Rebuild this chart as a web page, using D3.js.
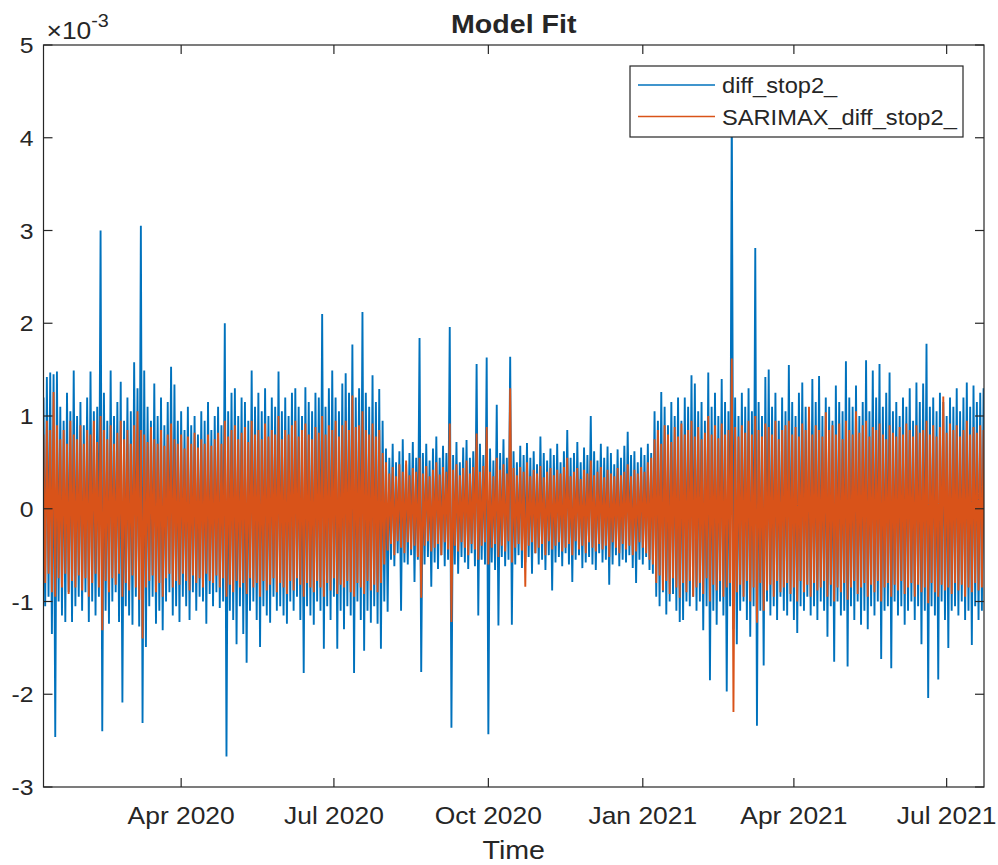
<!DOCTYPE html>
<html>
<head>
<meta charset="utf-8">
<script src="https://cdn.jsdelivr.net/npm/d3@7"></script>
<style>
  body { margin: 0; background: #fff; }
  svg { display: block; font-family: "Liberation Sans", Arial, Helvetica, sans-serif; }
</style>
</head>
<body>
<svg id="chart" width="998" height="865"></svg>
<script>
// values are in units of 1e-3; one (peak, trough) pair every 2 days from 2020-01-10
const startDate = Date.UTC(2020, 0, 10);
const stepDays = 2;

const actualHi = [
  1.20, 1.42, 1.47, 1.45, 1.48, 1.10, 0.95, 1.25, 1.05, 1.49,
  1.00, 1.15, 0.90, 1.20, 1.48, 1.05, 1.10, 3.00, 1.25, 0.95,
  1.49, 1.00, 1.15, 1.37, 0.95, 1.20, 1.05, 1.58, 1.30, 3.05,
  1.49, 1.10, 0.95, 1.35, 1.00, 1.20, 0.90, 1.15, 1.53, 1.34,
  0.95, 1.05, 0.85, 1.10, 0.90, 1.00, 0.80, 1.05, 0.95, 1.15,
  0.85, 1.00, 1.10, 0.90, 2.00, 1.05, 1.25, 1.30, 1.00, 1.20,
  1.15, 0.95, 1.49, 1.10, 1.25, 1.05, 1.30, 1.00, 1.20, 1.10,
  1.48, 1.05, 1.20, 1.00, 1.25, 1.30, 1.10, 1.00, 1.31, 1.15,
  1.05, 1.25, 1.20, 2.10, 1.10, 1.30, 1.49, 1.20, 1.05, 1.35,
  1.46, 1.25, 1.77, 1.20, 1.30, 2.12, 1.25, 1.10, 1.44, 1.15,
  1.29, 0.95,
  0.65, 0.55, 0.70, 0.50, 0.62, 0.75, 0.48, 0.60, 0.72, 0.55,
  1.84, 0.60, 0.70, 0.52, 0.65, 0.78, 0.55, 0.68, 0.60, 1.96,
  0.58, 0.72, 0.50, 0.66, 0.74, 0.55, 0.62, 1.56, 0.70, 0.58,
  1.63, 0.65, 0.52, 1.12, 0.60, 0.75, 0.55, 1.64, 0.62, 0.50,
  0.68, 0.58, 0.71, 0.55, 0.62, 0.48, 0.78, 0.60, 0.52, 0.65,
  0.58, 0.70, 0.50, 0.62, 0.85, 0.55, 0.60, 0.72, 0.50, 0.66,
  0.58, 1.00, 0.62, 0.52, 0.70, 0.55, 0.67, 0.60, 0.48, 0.64,
  0.55, 0.68, 0.83, 0.58, 0.62, 0.50, 0.66, 0.58, 0.70, 0.60,
  1.05, 0.95, 1.26, 1.10, 0.90, 1.15, 1.00, 1.20, 0.95, 1.20,
  1.10, 1.44, 1.35, 1.05, 1.15, 0.95, 1.47, 1.10, 1.25, 1.00,
  1.40, 1.15, 1.05, 4.40, 1.20, 1.00, 1.25, 1.10, 1.30, 1.05,
  2.81, 1.15, 1.00, 1.42, 1.50, 1.10, 1.25, 0.95, 1.20, 1.05,
  1.55, 1.15, 1.00, 1.25, 1.36, 1.10, 1.05, 1.40, 1.15, 1.43,
  1.00, 1.20, 1.10, 0.95, 1.33, 1.15, 1.05, 1.59, 1.20, 1.10,
  1.33, 1.00, 1.15, 1.60, 1.05, 1.49, 1.20, 1.56, 1.10, 1.25,
  1.47, 1.05, 1.15, 1.00, 1.20, 1.10, 1.30, 0.95, 1.36, 1.15,
  1.35, 1.78, 1.10, 1.20, 1.05, 1.25, 1.15, 1.00, 1.20, 1.10,
  1.30, 1.05, 1.20, 1.36, 1.10, 1.33, 1.15, 1.25, 1.30
];
const actualLo = [
  -1.05, -0.95, -1.35, -2.46, -1.00, -1.15, -1.22, -0.90, -1.22, -1.05,
  -0.95, -1.10, -0.90, -1.22, -1.00, -1.15, -0.95, -2.40, -1.10, -1.24,
  -1.00, -0.90, -1.22, -2.09, -1.05, -1.15, -1.25, -0.95, -1.27, -2.31,
  -1.49, -1.05, -0.95, -1.24, -1.10, -1.31, -1.00, -0.90, -1.15, -1.05,
  -1.22, -0.95, -1.05, -1.20, -0.90, -1.10, -0.95, -1.00, -1.24, -0.92,
  -1.05, -0.90, -1.07, -1.00, -2.67, -1.10, -1.20, -1.46, -1.05, -1.35,
  -1.66, -1.10, -1.00, -1.20, -1.49, -1.05, -1.15, -1.23, -0.95, -1.10,
  -1.05, -1.15, -1.24, -1.00, -1.10, -0.95, -1.20, -1.77, -1.05, -1.15,
  -1.25, -1.00, -1.10, -1.51, -1.05, -1.20, -0.95, -1.51, -1.10, -1.30,
  -1.05, -1.15, -1.77, -1.00, -1.20, -1.53, -1.10, -1.23, -1.05, -1.24,
  -1.51, -1.00,
  -1.11, -0.55, -0.62, -0.48, -1.10, -0.58, -0.60, -0.50, -0.79, -0.55,
  -1.76, -0.60, -0.52, -0.84, -0.58, -0.65, -0.50, -0.62, -0.55, -2.36,
  -0.60, -0.70, -0.52, -0.58, -0.65, -0.48, -0.62, -1.15, -0.55, -0.60,
  -2.43, -0.58, -0.66, -1.26, -0.52, -0.62, -0.55, -1.25, -0.60, -0.50,
  -0.64, -0.58, -0.52, -0.70, -0.48, -0.60, -0.55, -0.66, -0.50, -0.88,
  -0.58, -0.52, -0.62, -0.48, -0.60, -0.79, -0.55, -0.50, -0.64, -0.58,
  -0.52, -0.60, -0.66, -0.48, -0.58, -0.55, -0.82, -0.60, -0.50, -0.62,
  -0.55, -0.58, -0.50, -0.64, -0.80, -0.55, -0.60, -0.52, -0.66, -0.70,
  -0.95, -1.05, -0.90, -1.14, -1.00, -0.92, -1.10, -1.22, -1.20, -1.00,
  -1.05, -0.95, -1.10, -1.00, -1.31, -1.05, -1.85, -1.10, -1.25, -1.00,
  -1.15, -1.97, -1.05, -1.30, -1.46, -1.10, -1.00, -1.20, -1.38, -1.05,
  -2.34, -1.10, -1.69, -1.00, -1.15, -1.05, -1.20, -0.95, -1.10, -1.15,
  -1.00, -1.20, -1.34, -1.05, -1.10, -0.95, -1.15, -1.05, -1.20, -1.00,
  -1.10, -1.38, -1.05, -1.65, -1.00, -1.15, -1.10, -1.70, -1.05, -1.20,
  -1.00, -1.25, -1.10, -1.30, -1.05, -1.15, -1.00, -1.62, -1.10, -1.05,
  -1.72, -1.00, -1.15, -1.05, -1.25, -1.10, -1.00, -1.20, -1.05, -1.46,
  -1.10, -2.04, -1.05, -1.15, -1.84, -1.00, -1.20, -1.50, -1.10, -1.05,
  -1.15, -1.00, -1.20, -1.10, -1.47, -1.05, -1.20, -1.10, -1.16
];
const fitHi = [
  0.80, 0.95, 0.85, 1.26, 0.90, 0.75, 0.85, 0.70, 0.95, 0.80,
  0.75, 0.90, 0.70, 0.85, 0.80, 0.95, 0.72, 1.00, 0.85, 0.75,
  0.90, 0.70, 0.82, 0.95, 0.75, 0.85, 0.70, 0.90, 1.05, 0.85,
  0.80, 0.72, 0.88, 0.75, 0.70, 0.85, 0.68, 0.80, 0.92, 0.75,
  0.70, 0.80, 0.65, 0.78, 0.70, 0.82, 0.66, 0.75, 0.70, 0.80,
  0.68, 0.75, 0.82, 0.70, 0.95, 0.78, 0.85, 0.90, 0.75, 0.82,
  0.88, 0.72, 0.95, 0.80, 0.85, 0.75, 0.92, 0.78, 0.85, 0.80,
  1.00, 0.75, 0.85, 0.80, 0.90, 0.95, 0.78, 0.85, 0.92, 0.80,
  0.75, 0.88, 0.82, 1.00, 0.80, 0.90, 0.85, 0.95, 0.78, 0.90,
  0.95, 0.85, 1.22, 0.88, 0.90, 1.05, 0.85, 0.80, 0.92, 0.78,
  0.85, 0.60,
  0.50, 0.38, 0.45, 0.35, 0.48, 0.40, 0.52, 0.36, 0.44, 0.40,
  0.55, 0.38, 0.46, 0.35, 0.42, 0.50, 0.37, 0.45, 0.40, 0.92,
  0.42, 0.48, 0.36, 0.44, 0.52, 0.38, 0.45, 0.81, 0.40, 0.46,
  0.88, 0.40, 0.35, 0.55, 0.42, 0.48, 0.38, 1.30, 0.44, 0.36,
  0.45, 0.40, 0.50, 0.35, 0.42, 0.38, 0.46, 0.34, 0.40, 0.44,
  0.36, 0.42, 0.38, 0.45, 0.55, 0.35, 0.40, 0.44, 0.32, 0.42,
  0.38, 0.52, 0.36, 0.40, 0.45, 0.34, 0.42, 0.38, 0.35, 0.44,
  0.36, 0.40, 0.48, 0.35, 0.42, 0.38, 0.45, 0.40, 0.50, 0.55,
  0.75, 0.85, 0.70, 0.90, 0.80, 0.72, 0.88, 0.78, 0.92, 0.80,
  0.85, 0.95, 0.78, 0.88, 0.75, 0.82, 1.00, 0.80, 0.90, 0.76,
  0.92, 0.80, 0.85, 1.62, 0.88, 0.78, 0.90, 0.82, 0.95, 0.80,
  1.00, 0.85, 0.78, 0.92, 0.88, 0.80, 0.95, 0.75, 0.85, 0.90,
  0.95, 0.80, 0.88, 0.78, 0.92, 0.85, 1.10, 0.80, 0.90, 0.85,
  0.78, 1.04, 0.85, 0.90, 0.80, 0.92, 0.75, 0.95, 0.85, 0.80,
  1.05, 0.82, 0.90, 0.95, 0.78, 0.88, 0.85, 0.92, 0.80, 0.75,
  0.90, 0.82, 0.78, 0.88, 0.80, 0.92, 0.85, 0.78, 0.90, 0.82,
  0.85, 0.95, 0.80, 0.90, 0.78, 0.88, 1.21, 0.82, 0.92, 0.85,
  0.90, 0.78, 0.85, 0.95, 0.80, 0.88, 0.82, 0.90, 0.85
];
const fitLo = [
  -0.80, -0.70, -0.90, -0.95, -0.75, -0.85, -0.70, -0.92, -0.78, -0.85,
  -0.72, -0.88, -0.75, -0.95, -0.80, -0.70, -0.85, -1.31, -0.78, -0.90,
  -0.75, -0.82, -0.70, -0.95, -0.80, -0.88, -0.72, -0.85, -0.98, -1.40,
  -0.85, -0.78, -0.72, -0.90, -0.80, -0.95, -0.75, -0.70, -0.85, -0.78,
  -0.82, -0.70, -0.78, -0.88, -0.72, -0.80, -0.75, -0.85, -0.70, -0.78,
  -0.80, -0.72, -0.85, -0.75, -0.95, -0.82, -0.90, -0.78, -0.85, -0.80,
  -0.92, -0.75, -0.85, -0.80, -0.95, -0.78, -0.88, -0.82, -0.75, -0.90,
  -0.80, -0.85, -0.92, -0.78, -0.88, -0.75, -0.82, -0.95, -0.80, -0.85,
  -0.90, -0.78, -0.85, -0.95, -0.80, -0.88, -0.75, -0.92, -0.82, -0.85,
  -0.78, -0.90, -0.95, -0.80, -0.85, -0.92, -0.78, -0.88, -0.82, -0.90,
  -0.80, -0.60,
  -0.45, -0.38, -0.50, -0.35, -0.42, -0.48, -0.36, -0.44, -0.40, -0.52,
  -0.96, -0.40, -0.35, -0.46, -0.42, -0.38, -0.50, -0.36, -0.44, -1.22,
  -0.40, -0.46, -0.36, -0.42, -0.50, -0.38, -0.44, -0.55, -0.40, -0.36,
  -0.60, -0.42, -0.38, -0.52, -0.40, -0.46, -0.35, -0.58, -0.42, -0.38,
  -0.45, -0.84, -0.40, -0.36, -0.48, -0.42, -0.38, -0.50, -0.35, -0.44,
  -0.40, -0.36, -0.46, -0.42, -0.38, -0.50, -0.35, -0.44, -0.40, -0.48,
  -0.36, -0.42, -0.46, -0.38, -0.44, -0.40, -0.52, -0.36, -0.42, -0.48,
  -0.38, -0.44, -0.40, -0.50, -0.46, -0.36, -0.42, -0.48, -0.55, -0.60,
  -0.80, -0.72, -0.88, -0.78, -0.92, -0.75, -0.85, -0.96, -0.80, -0.90,
  -0.78, -0.95, -0.85, -0.80, -0.92, -0.75, -1.00, -0.82, -0.88, -0.78,
  -0.95, -0.85, -0.80, -2.19, -0.90, -0.82, -0.95, -0.78, -1.00, -0.85,
  -1.23, -0.80, -1.10, -0.88, -0.82, -0.95, -0.78, -0.90, -0.85, -0.80,
  -0.92, -0.85, -1.00, -0.78, -0.90, -0.82, -0.95, -0.80, -0.88, -0.85,
  -0.78, -0.95, -0.82, -1.00, -0.85, -0.90, -0.80, -0.98, -0.85, -0.78,
  -0.92, -0.85, -0.80, -0.95, -0.82, -0.90, -0.78, -1.00, -0.85, -0.80,
  -0.95, -0.82, -0.88, -0.78, -0.92, -0.85, -0.80, -0.95, -0.82, -0.90,
  -0.85, -1.02, -0.80, -0.90, -0.95, -0.82, -0.88, -0.85, -0.92, -0.80,
  -0.88, -0.82, -0.95, -0.85, -0.90, -0.80, -0.88, -0.85, -0.82
];

const seriesNames = ['diff_stop2_', 'SARIMAX_diff_stop2_'];
const seriesColors = ['#0072BD', '#D95319'];
const yTickValues = [-3, -2, -1, 0, 1, 2, 3, 4, 5];
const xTickDates = ['2020-04-01', '2020-07-01', '2020-10-01', '2021-01-01', '2021-04-01', '2021-07-01'];
const xDomain = [Date.UTC(2020, 0, 10), Date.UTC(2021, 6, 23, 6)];

const DAY = 864e5;
const textStretch = 1.1;
const axisColor = '#262626';

function toPoints(hi, lo) {
  const n = Math.min(hi.length, lo.length);
  const pts = [];
  for (let i = 0; i < n; i++) {
    const t = startDate + i * stepDays * DAY;
    pts.push({ t: t, v: hi[i] });
    pts.push({ t: t + stepDays * DAY / 2, v: lo[i] });
  }
  return pts;
}

// text with the slightly wide glyphs of the source figure
function label(parent, x, y, str, size, anchor, weight) {
  return parent.append('text')
    .attr('transform', `translate(${x},${y}) scale(${textStretch},1)`)
    .attr('text-anchor', anchor || 'start')
    .attr('font-size', size)
    .attr('font-weight', weight || 'normal')
    .attr('fill', axisColor)
    .text(str);
}

function draw() {
  const margin = { top: 45, right: 14, bottom: 78, left: 43.5 };
  const svg = d3.select('#chart');
  const W = +svg.attr('width');
  const H = +svg.attr('height');
  const w = W - margin.left - margin.right;
  const h = H - margin.top - margin.bottom;

  const x = d3.scaleUtc().domain(xDomain).range([0, w]);
  const y = d3.scaleLinear().domain([-3, 5]).range([h, 0]);

  const g = svg.append('g').attr('transform', `translate(${margin.left},${margin.top})`);

  g.append('clipPath').attr('id', 'clip')
    .append('rect').attr('width', w).attr('height', h);

  // series
  const line = d3.line().x((d) => x(d.t)).y((d) => y(d.v));
  const series = [toPoints(actualHi, actualLo), toPoints(fitHi, fitLo)];
  const plot = g.append('g').attr('clip-path', 'url(#clip)');
  series.forEach((pts, k) => {
    plot.append('path')
      .datum(pts)
      .attr('fill', 'none')
      .attr('stroke', seriesColors[k])
      .attr('stroke-width', 1.9)
      .attr('stroke-linejoin', 'bevel')
      .attr('d', line);
  });

  // axes: ticks inside on all four sides, labels left and bottom
  const xTicks = xTickDates.map((s) => new Date(s + 'T00:00:00Z'));
  const fmt = d3.utcFormat('%b %Y');
  const tickLen = 9;
  const ax = g.append('g').attr('stroke', axisColor).attr('stroke-width', 1.2);
  ax.append('rect').attr('width', w).attr('height', h).attr('fill', 'none');
  xTicks.forEach((d) => {
    ax.append('line').attr('x1', x(d)).attr('x2', x(d)).attr('y1', h).attr('y2', h - tickLen);
    ax.append('line').attr('x1', x(d)).attr('x2', x(d)).attr('y1', 0).attr('y2', tickLen);
  });
  yTickValues.forEach((v) => {
    ax.append('line').attr('x1', 0).attr('x2', tickLen).attr('y1', y(v)).attr('y2', y(v));
    ax.append('line').attr('x1', w).attr('x2', w - tickLen).attr('y1', y(v)).attr('y2', y(v));
  });

  xTicks.forEach((d) => {
    label(g, x(d), h + 37, fmt(d), 24, 'middle');
  });
  yTickValues.forEach((v) => {
    label(g, -10, y(v) + 8, v, 22.5, 'end');
  });

  // exponent label
  const expo = g.append('text')
    .attr('transform', `translate(3,-6) scale(${textStretch},1)`)
    .attr('font-size', 24)
    .attr('fill', axisColor);
  expo.append('tspan').text('\u00d710');
  expo.append('tspan').attr('font-size', 18).attr('dy', -12).text('-3');

  // title and axis label
  label(svg, margin.left + w / 2, 33, 'Model Fit', 26, 'middle', 'bold');
  label(svg, margin.left + w / 2, 859, 'Time', 26, 'middle');

  // legend
  const lg = svg.append('g').attr('transform', 'translate(630,66)');
  lg.append('rect').attr('width', 333).attr('height', 71)
    .attr('fill', '#fff').attr('stroke', axisColor).attr('stroke-width', 1.2);
  seriesNames.forEach((name, k) => {
    const ly = 19 + k * 31.5;
    lg.append('line').attr('x1', 8).attr('x2', 85).attr('y1', ly).attr('y2', ly)
      .attr('stroke', seriesColors[k]).attr('stroke-width', 1.5);
    label(lg, 92, ly + 8, name, 21.5, 'start');
  });
}

draw();
</script>
</body>
</html>
